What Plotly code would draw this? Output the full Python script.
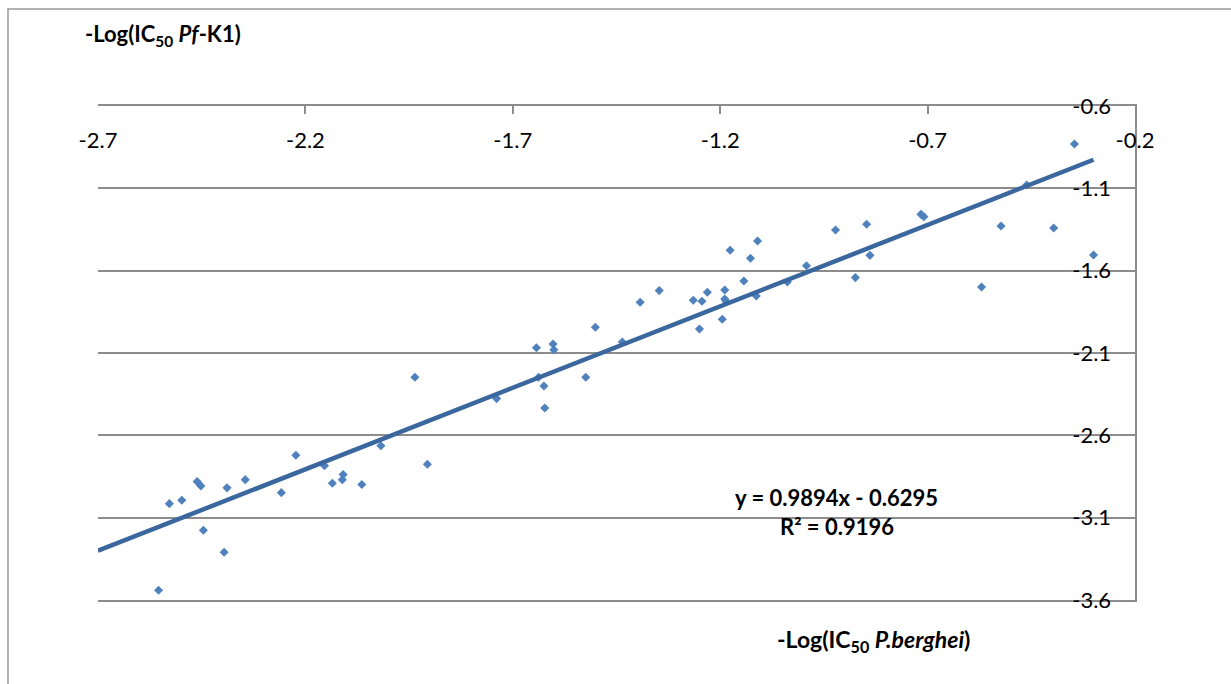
import plotly.graph_objects as go

# Data
pberghei = [-2.554, -2.528, -2.498, -2.461, -2.452, -2.446, -2.396, -2.389, -2.345, -2.258,
            -2.223, -2.154, -2.135, -2.111, -2.109, -2.064, -2.018, -1.906, -1.936, -1.739,
            -1.643, -1.638, -1.625, -1.623, -1.603, -1.601, -1.524, -1.501, -1.436, -1.250,
            -1.393, -1.347, -1.265, -1.244, -1.231, -1.195, -1.189, -1.189, -1.186, -1.176,
            -1.143, -1.127, -1.113, -1.110, -1.038, -0.992, -0.922, -0.874, -0.847, -0.839,
            -0.716, -0.709, -0.570, -0.523, -0.461, -0.396, -0.300, -0.346]
pfk1 = [-3.541, -3.015, -2.994, -2.881, -2.907, -3.176, -3.310, -2.919, -2.869, -2.948,
        -2.721, -2.784, -2.891, -2.869, -2.838, -2.899, -2.663, -2.776, -2.247, -2.377,
        -2.068, -2.247, -2.300, -2.434, -2.045, -2.081, -2.247, -1.944, -2.033, -1.954,
        -1.792, -1.721, -1.780, -1.786, -1.731, -1.895, -1.717, -1.772, -1.786, -1.476,
        -1.663, -1.525, -1.754, -1.420, -1.669, -1.570, -1.353, -1.642, -1.318, -1.507,
        -1.258, -1.272, -1.699, -1.329, -1.080, -1.341, -1.505, -0.831]

slope = 0.9894
intercept = -0.6295
trend_x = [-2.7, -0.3]
trend_y = [slope * v + intercept for v in trend_x]

x_ticks = [-2.7, -2.2, -1.7, -1.2, -0.7, -0.2]
y_ticks = [-0.6, -1.1, -1.6, -2.1, -2.6, -3.1, -3.6]

FONT = "Lato, Carlito, Calibri, 'Open Sans', sans-serif"
GRID = "#8c8c8c"

fig = go.Figure()
fig.add_trace(go.Scatter(
    x=pberghei, y=pfk1, mode="markers",
    marker=dict(symbol="diamond", size=7, color="#4F81BD"),
    showlegend=False, hoverinfo="x+y"))
fig.add_trace(go.Scatter(
    x=trend_x, y=trend_y, mode="lines",
    line=dict(color="#3A679D", width=4.5),
    showlegend=False, hoverinfo="skip"))
# invisible trace on the overlay axes (used only for tick labels)
fig.add_trace(go.Scatter(x=[-1.0], y=[-2.0], xaxis="x2", yaxis="y2", mode="markers",
                         marker=dict(opacity=0), showlegend=False, hoverinfo="skip"))

fig.update_layout(
    width=1231, height=684,
    margin=dict(l=98, r=96, t=106, b=84),
    paper_bgcolor="white", plot_bgcolor="white",
    font=dict(family=FONT, size=22, color="black"),
    xaxis=dict(range=[-2.7, -0.2], side="top", tickvals=x_ticks, showticklabels=False,
               ticks="inside", ticklen=8, tickcolor=GRID, tickwidth=1.5,
               showline=True, linecolor=GRID, linewidth=1.5, mirror=True,
               showgrid=False, zeroline=False),
    xaxis2=dict(overlaying="x", matches="x", side="top", anchor="free", position=0.907,
                tickvals=x_ticks, ticktext=[str(v) for v in x_ticks],
                showline=False, showgrid=False, zeroline=False, ticks=""),
    yaxis=dict(range=[-3.6, -0.6], side="right", tickvals=y_ticks, showticklabels=False,
               showgrid=True, gridcolor=GRID, gridwidth=1.5,
               showline=True, linecolor=GRID, linewidth=1.5, ticks="", zeroline=False),
    yaxis2=dict(overlaying="y", matches="y", side="left", anchor="free", position=0.977,
                tickvals=y_ticks, ticktext=[str(v) for v in y_ticks],
                showline=False, showgrid=False, zeroline=False, ticks=""),
    shapes=[dict(type="rect", xref="paper", yref="paper",
                 x0=-0.0868, x1=1.2, y0=-0.3, y1=1.1964,
                 line=dict(color="#9a9a9a", width=1.5), layer="below")],
    annotations=[
        dict(text="<b>-Log(IC<sub>50</sub> <i>Pf</i>-K1)</b>", xref="paper", yref="paper",
             x=-0.0145, y=1.1437, xanchor="left", yanchor="middle", showarrow=False,
             font=dict(size=22)),
        dict(text="<b>-Log(IC<sub>50</sub> <i>P.berghei</i>)</b>", xref="paper", yref="paper",
             x=0.7474, y=-0.081, xanchor="center", yanchor="middle", showarrow=False,
             font=dict(size=23)),
        dict(text="<b>y = 0.9894x - 0.6295</b>", xref="paper", yref="paper",
             x=0.7126, y=0.2085, xanchor="center", yanchor="middle", showarrow=False,
             font=dict(size=22)),
        dict(text="<b>R² = 0.9196</b>", xref="paper", yref="paper",
             x=0.7126, y=0.1478, xanchor="center", yanchor="middle", showarrow=False,
             font=dict(size=22)),
    ],
)

fig.write_html("out.html")
